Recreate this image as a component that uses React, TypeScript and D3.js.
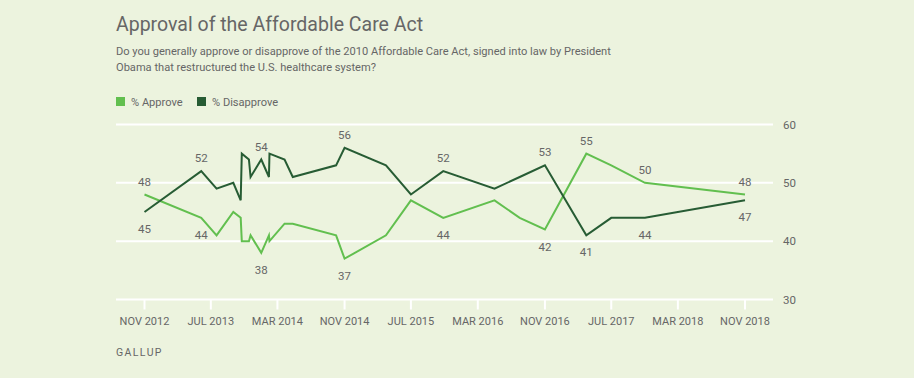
import React from "react";
import * as d3 from "d3";

const dates = [
  "2012-11-15", "2013-06-10", "2013-08-05", "2013-10-05", "2013-11-01", "2013-11-05",
  "2013-12-01", "2013-12-07", "2014-01-15", "2014-02-12", "2014-02-14", "2014-04-10",
  "2014-05-10", "2014-10-15", "2014-11-15", "2015-04-15", "2015-07-15", "2015-11-10",
  "2016-05-15", "2016-08-15", "2016-11-15", "2017-04-15", "2017-07-15", "2017-11-15",
  "2018-11-15",
];
const approve = [48, 44, 41, 45, 44, 40, 40, 41, 38, 41, 40, 43, 43, 41, 37, 41, 47, 44, 47, 44, 42, 55, 53, 50, 48];
const disapprove = [45, 52, 49, 50, 47, 55, 54, 51, 54, 51, 55, 54, 51, 53, 56, 53, 48, 52, 49, 51, 53, 41, 44, 44, 47];

// indices of labelled points and whether label goes above (-1) or below (+1)
const approveLabels: [number, number][] = [[0, -1], [1, 1], [8, 1], [14, 1], [17, 1], [20, 1], [21, -1], [23, -1], [24, -1]];
const disapproveLabels: [number, number][] = [[0, 1], [1, -1], [8, -1], [14, -1], [17, -1], [20, -1], [21, 1], [23, 1], [24, 1]];

const tickDates = ["2012-11-15", "2013-07-15", "2014-03-15", "2014-11-15", "2015-07-15", "2016-03-15", "2016-11-15", "2017-07-15", "2018-03-15", "2018-11-15"];
const tickLabels = ["NOV 2012", "JUL 2013", "MAR 2014", "NOV 2014", "JUL 2015", "MAR 2016", "NOV 2016", "JUL 2017", "MAR 2018", "NOV 2018"];
const yTicks = [30, 40, 50, 60];

const BG = "#ecf3de";
const APPROVE = "#62bf4f";
const DISAPPROVE = "#275c34";
const TEXT = "#666666";
const FONT = "Roboto, 'Noto Sans', sans-serif";

export default function App() {
  const W = 914, H = 378;
  const parse = d3.timeParse("%Y-%m-%d");
  const x = d3.scaleTime().domain([parse("2012-11-15")!, parse("2018-11-15")!]).range([144.5, 745]);
  const y = d3.scaleLinear().domain([30, 60]).range([299.5, 124.5]);
  const pts = dates.map((d, i) => ({ d: parse(d)!, a: approve[i], b: disapprove[i] }));
  const lineA = d3.line<any>().x((p) => x(p.d)).y((p) => y(p.a));
  const lineB = d3.line<any>().x((p) => x(p.d)).y((p) => y(p.b));
  const gridX0 = 116, gridX1 = 773;

  return (
    <svg width={W} height={H} style={{ position: "absolute", left: 0, top: 0, fontFamily: FONT }}>
      <rect x={0} y={0} width={W} height={H} fill={BG} />
      <text x={116} y={31} fontSize={19.5} fill={TEXT}>Approval of the Affordable Care Act</text>
      <text x={116} y={55} fontSize={11.1} fill={TEXT}>Do you generally approve or disapprove of the 2010 Affordable Care Act, signed into law by President</text>
      <text x={116} y={71} fontSize={11.1} fill={TEXT}>Obama that restructured the U.S. healthcare system?</text>

      <rect x={116} y={97} width={9} height={9} fill={APPROVE} />
      <text x={131} y={105.5} fontSize={11.1} fill={TEXT}>% Approve</text>
      <rect x={197} y={97} width={9} height={9} fill={DISAPPROVE} />
      <text x={212} y={105.5} fontSize={11.1} fill={TEXT}>% Disapprove</text>

      {yTicks.map((t) => (
        <g key={t}>
          <line x1={gridX0} x2={gridX1} y1={y(t)} y2={y(t)} stroke="#ffffff" strokeWidth={2} />
          <text x={783} y={y(t) + 4} fontSize={11.5} fill={TEXT}>{t}</text>
        </g>
      ))}
      {tickDates.map((t, i) => {
        const xx = x(parse(t)!);
        return (
          <g key={t}>
            <line x1={xx} x2={xx} y1={y(30)} y2={y(30) + 10} stroke="#ffffff" strokeWidth={2} />
            <text x={xx} y={325} fontSize={11} fill={TEXT} textAnchor="middle">{tickLabels[i]}</text>
          </g>
        );
      })}

      <path d={lineA(pts) || ""} fill="none" stroke={APPROVE} strokeWidth={2} strokeLinejoin="miter" />
      <path d={lineB(pts) || ""} fill="none" stroke={DISAPPROVE} strokeWidth={2} strokeLinejoin="miter" />

      {approveLabels.map(([i, dir]) => (
        <text key={"a" + i} x={x(pts[i].d)} y={y(pts[i].a) + (dir < 0 ? -9 : 21)} fontSize={11.5} fill={TEXT} textAnchor="middle">{pts[i].a}</text>
      ))}
      {disapproveLabels.map(([i, dir]) => (
        <text key={"b" + i} x={x(pts[i].d)} y={y(pts[i].b) + (dir < 0 ? -9 : 21)} fontSize={11.5} fill={TEXT} textAnchor="middle">{pts[i].b}</text>
      ))}

      <text x={116} y={356} fontSize={10.5} fill={TEXT} letterSpacing={1.4}>GALLUP</text>
    </svg>
  );
}
